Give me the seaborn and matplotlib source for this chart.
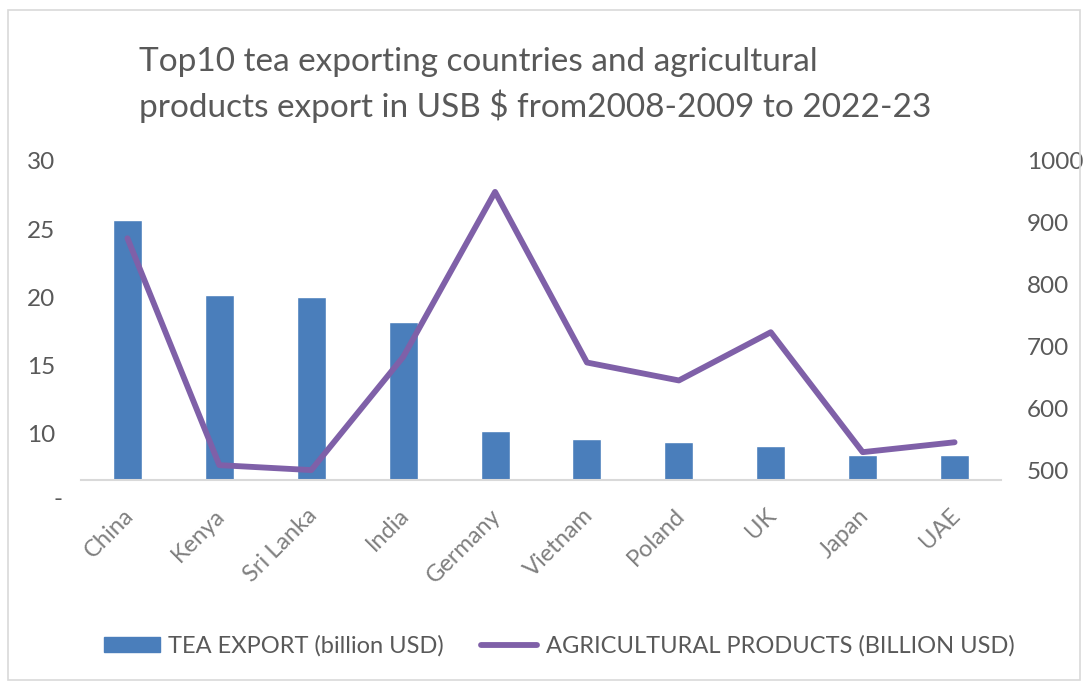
import matplotlib
matplotlib.use("Agg")
import matplotlib.pyplot as plt
import matplotlib.transforms as mtransforms
from matplotlib.patches import Patch, Rectangle
from matplotlib.lines import Line2D
import seaborn as sns
import pandas as pd

countries = ["China", "Kenya", "Sri Lanka", "India", "Germany", "Vietnam",
             "Poland", "UK", "Japan", "UAE"]
tea_export = [25.7, 20.2, 20.0, 18.2, 10.2, 9.6, 9.4, 9.1, 8.4, 8.4]
agri_export = [875, 508, 500, 683, 950, 674, 645, 723, 529, 545]
left_ticks = [10, 15, 20, 25, 30]
right_ticks = [500, 600, 700, 800, 900, 1000]

title = "Top10 tea exporting countries and agricultural\nproducts export in USB $ from2008-2009 to 2022-23"
bar_label = "TEA EXPORT (billion USD)"
line_label = "AGRICULTURAL PRODUCTS (BILLION USD)"

BLUE = "#4A7EBB"
PURPLE = "#7F60A8"
GRAY = "#595959"

sns.set_style("white")
plt.rcParams["font.family"] = ["Lato", "DejaVu Sans"]

df = pd.DataFrame({"country": countries, "tea": tea_export, "agri": agri_export})

fig = plt.figure(figsize=(10.88, 6.85), dpi=100)
ax = fig.add_axes([0.0749, 0.2993, 0.8447, 0.4657])

sns.barplot(data=df, x="country", y="tea", color=BLUE, width=0.315,
            saturation=1, ax=ax, zorder=2)
ax.set_ylim(6.6, 30)
ax.set_yticks(left_ticks)
ax.set_yticklabels([str(t) for t in left_ticks])
ax.set_xlim(-0.5, len(countries) - 0.5)

ax2 = ax.twinx()
sns.lineplot(data=df, x="country", y="agri", color=PURPLE, linewidth=4.2,
             sort=False, ax=ax2, zorder=3)
ax2.set_ylim(484, 1000)
ax2.set_yticks(right_ticks)
ax2.set_xlim(-0.5, len(countries) - 0.5)

for a in (ax, ax2):
    for s in a.spines.values():
        s.set_visible(False)
    a.set_xlabel("")
    a.set_ylabel("")
    a.tick_params(length=0)
    a.grid(False)

ax.spines["bottom"].set_visible(True)
ax.spines["bottom"].set_color("#D9D9D9")
ax.spines["bottom"].set_linewidth(1.5)

ax.tick_params(axis="y", labelsize=17.5, labelcolor=GRAY, pad=19)
ax2.tick_params(axis="y", labelsize=17.5, labelcolor=GRAY, pad=19)

ax.set_xticks(range(len(countries)))
ax.set_xticklabels(countries, rotation=45, ha="right", rotation_mode="anchor",
                   fontsize=17, color="#7F7F7F")
ax.tick_params(axis="x", pad=18)
offset = mtransforms.ScaledTranslation(-5 / 100, 0, fig.dpi_scale_trans)
for lab in ax.get_xticklabels():
    lab.set_transform(lab.get_transform() + offset)

# Excel-style dash for zero on left axis
trans = mtransforms.blended_transform_factory(ax.transAxes, ax.transData)
ax.text(-19 / (0.8447 * 1088), 5.2, "-", transform=trans, ha="right",
        va="center", fontsize=17.5, color=GRAY, clip_on=False)

fig.text(139 / 1088, 1 - 85 / 685, title, ha="left", va="center",
         fontsize=24, color=GRAY, linespacing=1.42)

handles = [Patch(facecolor=BLUE, edgecolor=BLUE),
           Line2D([0], [0], color=PURPLE, linewidth=4.2)]
fig.legend(handles, [bar_label, line_label], loc="center",
           bbox_to_anchor=(559 / 1088, 1 - 646 / 685), ncol=2, frameon=False,
           fontsize=17, labelcolor=GRAY, handlelength=2.4, handleheight=0.6,
           handletextpad=0.35, columnspacing=1.55)

fig.add_artist(Rectangle((8 / 1088, 1 - 680 / 685), 1072 / 1088, 670 / 685,
                         transform=fig.transFigure, fill=False,
                         edgecolor="#D9D9D9", linewidth=1.2))

fig.savefig("out.png", dpi=100)
